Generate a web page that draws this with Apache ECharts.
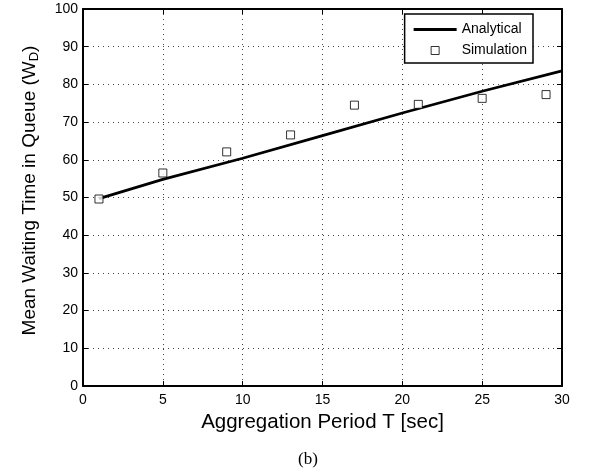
<!DOCTYPE html>
<html>
<head>
<meta charset="utf-8">
<script src="https://cdn.jsdelivr.net/npm/echarts@6/dist/echarts.min.js"></script>
<style>
html, body { margin: 0; padding: 0; background: #fff; }
#chart { width: 592px; height: 474px; }
</style>
</head>
<body>
<div id="chart"></div>
<script>
// analytical curve
var analyticalT = [1, 5, 10, 15, 20, 25, 30];
var analyticalW = [49.7, 54.8, 60.4, 66.4, 72.4, 78.2, 83.6];
// simulation points
var simT = [1, 5, 9, 13, 17, 21, 25, 29];
var simW = [49.6, 56.5, 62.1, 66.6, 74.5, 74.7, 76.3, 77.3];

var xTicks = [0, 5, 10, 15, 20, 25, 30];
var yTicks = [0, 10, 20, 30, 40, 50, 60, 70, 80, 90, 100];

var font = 'Liberation Sans, Arial, Helvetica, sans-serif';

var toPairs = function(xs, ys){
    var out = [];
    for (var i = 0; i < xs.length; i++) out.push([xs[i], ys[i]]);
    return out;
};

var chart = echarts.init(document.getElementById('chart'));

var dotted = { show: true, lineStyle: { color: '#444', type: [1, 4], width: 1 } };
var axisLine = { show: true, onZero: false, lineStyle: { color: '#000', width: 2 } };
var tick = { show: true, inside: true, length: 5, lineStyle: { color: '#000', width: 1 } };

var option = {
    animation: false,
    backgroundColor: '#fff',
    grid: { left: 83, right: 30, top: 9, bottom: 88, containLabel: false },
    legend: {
        right: 59, top: 14,
        orient: 'vertical',
        itemGap: 4,
        padding: [7, 6, 4, 9],
        backgroundColor: '#fff',
        borderColor: '#000',
        borderWidth: 1.5,
        borderRadius: 0,
        itemWidth: 43,
        itemHeight: 8,
        symbolKeepAspect: true,
        textStyle: { fontFamily: font, fontSize: 14, color: '#000', lineHeight: 17 },
        data: [
            { name: 'Analytical', icon: 'path://M0,0 L43,0 L43,3 L0,3 Z', itemStyle: { color: '#000', borderWidth: 0 } },
            { name: 'Simulation', icon: 'path://M0,0 L8,0 L8,8 L0,8 Z', itemStyle: { color: '#fff', borderColor: '#000', borderWidth: 1 } }
        ]
    },
    xAxis: [{
        type: 'value', min: 0, max: 30, interval: 5,
        name: 'Aggregation Period T [sec]',
        nameLocation: 'middle', nameGap: 24,
        nameTextStyle: { fontFamily: font, fontSize: 20.5, color: '#000' },
        axisLine: axisLine, axisTick: tick,
        axisLabel: { fontFamily: font, fontSize: 14, color: '#000', margin: 7 },
        splitLine: dotted
    }, {
        type: 'value', position: 'top', min: 0, max: 30, interval: 5,
        axisLine: axisLine, axisTick: tick, axisLabel: { show: false }, splitLine: { show: false }
    }],
    yAxis: [{
        type: 'value', min: 0, max: 100, interval: 10,
        name: '{n|Mean Waiting Time in Queue (W}{s|D}{n|)}',
        nameLocation: 'middle', nameGap: 42,
        nameTextStyle: {
            fontFamily: font, fontSize: 19, color: '#000',
            padding: [0, 0, 0, 14],
            rich: {
                n: { fontFamily: font, fontSize: 19, color: '#000', verticalAlign: 'top', lineHeight: 21 },
                s: { fontFamily: font, fontSize: 13, color: '#000', verticalAlign: 'bottom', lineHeight: 13, padding: [19, 0, 0, 0] }
            }
        },
        axisLine: axisLine, axisTick: tick,
        axisLabel: { fontFamily: font, fontSize: 14, color: '#000', margin: 5 },
        splitLine: dotted
    }, {
        type: 'value', position: 'right', min: 0, max: 100, interval: 10,
        axisLine: axisLine, axisTick: tick, axisLabel: { show: false }, splitLine: { show: false }
    }],
    series: [{
        name: 'Analytical',
        type: 'line',
        data: toPairs(analyticalT, analyticalW),
        showSymbol: false,
        lineStyle: { color: '#000', width: 2.7 },
        itemStyle: { color: '#000' },
        z: 3
    }, {
        name: 'Simulation',
        type: 'scatter',
        data: toPairs(simT, simW),
        symbol: 'rect',
        symbolSize: 8,
        itemStyle: { color: '#fff', borderColor: '#000', borderWidth: 1 },
        z: 4
    }],
    graphic: [{
        type: 'text', left: 298, top: 451,
        style: { text: '(b)', font: '17px "Liberation Serif", "Times New Roman", serif', fill: '#000' }
    }]
};
chart.setOption(option);
</script>
</body>
</html>
